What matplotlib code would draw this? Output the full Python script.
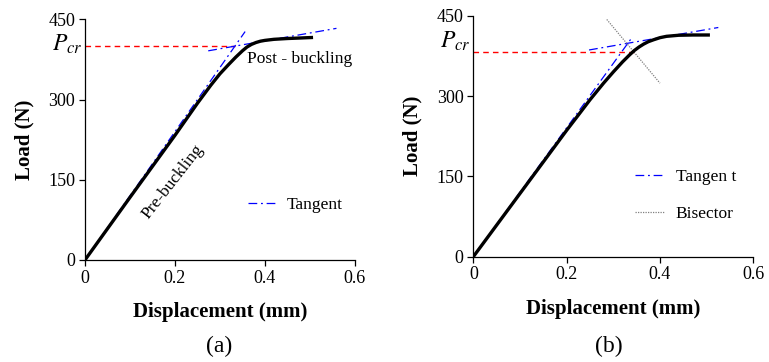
import matplotlib
matplotlib.use("Agg")
import matplotlib.pyplot as plt
import numpy as np

plt.rcParams['font.family'] = ['Liberation Serif', 'DejaVu Serif']
plt.rcParams['mathtext.fontset'] = 'stix'

# load-displacement curves (mm, N)
disp_a = [0.0, 0.1, 0.2, 0.25, 0.28, 0.30, 0.32, 0.335, 0.35, 0.36, 0.37,
          0.38, 0.39, 0.40, 0.42, 0.45, 0.48, 0.507]
load_a = [0, 117, 233, 293, 327, 348, 366, 379, 391, 398, 403,
          406.5, 409, 410.5, 412.5, 414, 415, 416]
disp_b = [0.0, 0.1, 0.2, 0.222, 0.25, 0.279, 0.30, 0.32, 0.335, 0.345, 0.355,
          0.365, 0.375, 0.386, 0.40, 0.414, 0.44, 0.47, 0.507]
load_b = [0, 118, 236, 261, 293, 324, 345, 364, 377, 385, 391.5,
          397, 401.5, 405, 409, 411.5, 413.5, 414, 414]

# tangent lines: pre-buckling and post-buckling
tan1_a_x = [0.0, 0.356]
tan1_a_y = [0, 427]
tan2_a_x = [0.274, 0.559]
tan2_a_y = [391, 433]
tan1_b_x = [0.0, 0.339]
tan1_b_y = [0, 408]
tan2_b_x = [0.248, 0.525]
tan2_b_y = [386, 428]
bisector_x = [0.286, 0.400]
bisector_y = [443, 324]

# critical loads
pcr_a = 400
pcr_a_x = 0.333
pcr_b = 383
pcr_b_x = 0.346

xticks = [0, 0.2, 0.4, 0.6]
xticklabels = ["0", "0.2", "0.4", "0.6"]
yticks = [0, 150, 300, 450]

dashdot = (0, (7, 3, 1.5, 3))


def style_axes(ax):
    ax.set_xlim(0, 0.6)
    ax.set_ylim(0, 450)
    ax.set_xticks(xticks)
    ax.set_xticklabels(xticklabels)
    ax.set_yticks(yticks)
    for s in ("top", "right"):
        ax.spines[s].set_visible(False)
    for s in ("left", "bottom"):
        ax.spines[s].set_linewidth(0.9)
    ax.tick_params(direction="out", length=4, width=0.9, labelsize=13, pad=3)
    ax.set_xlabel("Displacement (mm)", fontsize=15, fontweight="bold", labelpad=11)
    ax.set_ylabel("Load (N)", fontsize=15, fontweight="bold", labelpad=10)


fig = plt.figure(figsize=(7.69, 3.62), dpi=100)
ax1 = fig.add_axes([0.1105, 0.2818, 0.351, 0.665])
ax2 = fig.add_axes([0.6155, 0.2909, 0.3641, 0.6657])

# (a) tangent method
ax1.plot([0, pcr_a_x], [pcr_a, pcr_a], color="red", lw=1.0, ls=(0, (4, 3)))
ax1.plot(tan1_a_x, tan1_a_y, color="blue", lw=0.9, ls=dashdot, label="Tangent")
ax1.plot(tan2_a_x, tan2_a_y, color="blue", lw=0.9, ls=dashdot)
ax1.plot(disp_a, load_a, color="black", lw=2.4, solid_capstyle="butt",
         solid_joinstyle="round")
style_axes(ax1)
ax1.text(0.196, 146, "Pre-buckling", rotation=52, fontsize=12.5,
         ha="center", va="center", rotation_mode="anchor")
ax1.text(0.36, 375, "Post - buckling", fontsize=12.5, ha="left", va="center")
ax1.text(-0.006, 403, r"$P_{cr}$", fontsize=17, ha="right", va="center")
ax1.legend(loc="lower left", bbox_to_anchor=(0.545, 0.13), frameon=False,
           fontsize=12.5, handlelength=1.75, handletextpad=0.5)

# (b) bisector method
ax2.plot([0, pcr_b_x], [pcr_b, pcr_b], color="red", lw=1.0, ls=(0, (4, 3)))
ax2.plot(tan1_b_x, tan1_b_y, color="blue", lw=0.9, ls=dashdot, label="Tangen t")
ax2.plot(tan2_b_x, tan2_b_y, color="blue", lw=0.9, ls=dashdot)
ax2.plot(bisector_x, bisector_y, color="gray", lw=0.9, ls=(0, (1, 1)), label="Bisector")
ax2.plot(disp_b, load_b, color="black", lw=2.4, solid_capstyle="butt",
         solid_joinstyle="round")
style_axes(ax2)
ax2.text(-0.006, 403, r"$P_{cr}$", fontsize=17, ha="right", va="center")
ax2.legend(loc="lower left", bbox_to_anchor=(0.521, 0.08), frameon=False,
           fontsize=12.5, handlelength=1.75, handletextpad=0.6, labelspacing=1.2)

fig.text(0.285, 0.042, "(a)", fontsize=17, ha="center", va="center")
fig.text(0.792, 0.042, "(b)", fontsize=17, ha="center", va="center")

fig.savefig("out.png", dpi=100)
